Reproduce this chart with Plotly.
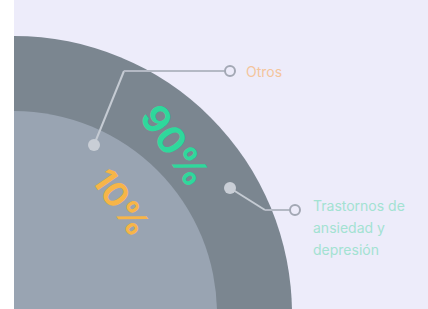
import plotly.graph_objects as go

# ---- data ----
labels = ["Otros", "Trastornos de ansiedad y depresión"]
values = [10, 90]
label_lines = [["Otros"], ["Trastornos de", "ansiedad y", "depresión"]]
value_colors = ["#F7B548", "#2FD89C"]
label_colors = ["#F4C59C", "#A3E2D2"]

W, H = 428, 309
BG = "#EDECFA"
RING = "#7B8690"
INNER = "#99A4B2"
CX, CY = 14, 314
R_OUT, R_IN = 278, 203

fig = go.Figure()

# connectors: (dot point, elbow, end point)
connectors = [
    [(94, 145), (124, 71), (230, 71)],
    [(230, 188), (265, 210), (295, 210)],
]
for pts in connectors:
    xs = [p[0] for p in pts]
    ys = [p[1] for p in pts]
    fig.add_trace(go.Scatter(x=xs[:2], y=ys[:2], mode="lines",
                             line=dict(color="#C5CBD3", width=2), hoverinfo="skip"))
    fig.add_trace(go.Scatter(x=xs[1:], y=ys[1:], mode="lines",
                             line=dict(color="#B4B9C4", width=2), hoverinfo="skip"))
    fig.add_trace(go.Scatter(x=[xs[0]], y=[ys[0]], mode="markers",
                             marker=dict(size=12, color="#C9CED6"), hoverinfo="skip"))
    fig.add_trace(go.Scatter(x=[xs[2]], y=[ys[2]], mode="markers",
                             marker=dict(size=10, color=BG, line=dict(color="#A3A8B4", width=2)),
                             hoverinfo="skip"))

shapes = [
    dict(type="circle", xref="x", yref="y", x0=CX - R_OUT, x1=CX + R_OUT,
         y0=CY - R_OUT, y1=CY + R_OUT, fillcolor=RING, line=dict(width=0), layer="below"),
    dict(type="circle", xref="x", yref="y", x0=CX - R_IN, x1=CX + R_IN,
         y0=CY - R_IN, y1=CY + R_IN, fillcolor=INNER, line=dict(width=0), layer="below"),
]

annotations = []
# value labels
val_pos = [(122, 202, 34), (175, 145, 38)]
for v, c, (x, y, s) in zip(values, value_colors, val_pos):
    annotations.append(dict(x=x, y=y, xref="x", yref="y", text=f"{v}%", showarrow=False,
                            textangle=55, font=dict(family="Inter", size=s, color=c, weight="bold")))
# category labels
lab_pos = [(244, 71), (311, 205)]
for lines, c, (x, y) in zip(label_lines, label_colors, lab_pos):
    for i, t in enumerate(lines):
        annotations.append(dict(x=x, y=y + i * 22, xref="x", yref="y", text=t, showarrow=False,
                                xanchor="left", font=dict(family="Inter", size=14, color=c)))

fig.update_layout(
    width=W, height=H, margin=dict(l=14, r=0, t=0, b=0),
    paper_bgcolor="white", plot_bgcolor=BG, showlegend=False,
    xaxis=dict(range=[14, W], visible=False, fixedrange=True),
    yaxis=dict(range=[H, 0], visible=False, fixedrange=True),
    shapes=shapes, annotations=annotations,
)
fig.write_html("out.html", config={"displayModeBar": False},
               post_script="document.body.style.margin='0';")
